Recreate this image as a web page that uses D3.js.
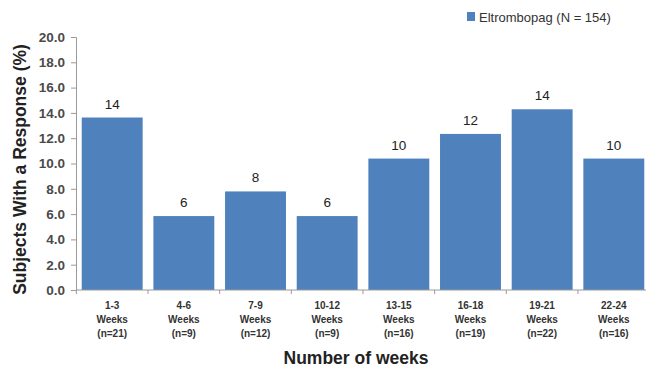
<!DOCTYPE html>
<html>
<head>
<meta charset="utf-8">
<script src="https://cdn.jsdelivr.net/npm/d3@7"></script>
<style>
  html, body { margin: 0; padding: 0; background: #fff; }
  svg { display: block; font-family: Arial, "Liberation Sans", sans-serif; }
</style>
</head>
<body>
<svg id="chart" width="646" height="368"></svg>
<script>
// Week windows and subjects responding in each (out of N = 154)
const periods = ["1-3", "4-6", "7-9", "10-12", "13-15", "16-18", "19-21", "22-24"];
const responders = [21, 9, 12, 9, 16, 19, 22, 16];
const totalN = 154;
const percents = responders.map(n => n / totalN * 100);
const yTicks = [0, 2, 4, 6, 8, 10, 12, 14, 16, 18, 20];
const seriesName = "Eltrombopag (N = 154)";

const data = periods.map((p, i) => ({ period: p, n: responders[i], pct: percents[i] }));

const svg = d3.select("#chart");
const plotLeft = 76, plotRight = 650, plotTop = 37, plotBottom = 290;
const barColor = "#4F81BD";
const axisColor = "#9a9a9a";

const x = d3.scaleBand()
  .domain(periods)
  .range([plotLeft, plotRight])
  .paddingInner(0.15)
  .paddingOuter(0.08);

const y = d3.scaleLinear().domain([0, 20]).range([plotBottom, plotTop]);

// Bars
svg.append("g").selectAll("rect")
  .data(data)
  .join("rect")
  .attr("x", d => x(d.period))
  .attr("y", d => y(d.pct))
  .attr("width", x.bandwidth())
  .attr("height", d => y(0) - y(d.pct))
  .attr("fill", barColor);

// Rounded value labels above each bar
svg.append("g").selectAll("text")
  .data(data)
  .join("text")
  .attr("x", d => x(d.period) + x.bandwidth() / 2)
  .attr("y", d => y(d.pct) - 9)
  .attr("text-anchor", "middle")
  .attr("font-size", 13.5)
  .attr("fill", "#222")
  .text(d => Math.round(d.pct));

// Y axis
const yAxis = svg.append("g")
  .attr("transform", `translate(${plotLeft},0)`)
  .call(d3.axisLeft(y).tickValues(yTicks).tickFormat(d3.format(".1f")).tickSize(5).tickPadding(6));
yAxis.select(".domain").attr("stroke", axisColor);
yAxis.selectAll(".tick line").attr("stroke", axisColor);
yAxis.selectAll("text")
  .attr("font-size", 13.5)
  .attr("font-weight", "bold")
  .attr("fill", "#4a4a4a")
  .attr("font-family", "Arial, 'Liberation Sans', sans-serif");

// X axis baseline with boundary ticks between categories
svg.append("line")
  .attr("x1", plotLeft).attr("x2", plotRight)
  .attr("y1", plotBottom).attr("y2", plotBottom)
  .attr("stroke", axisColor);
const step = x.step();
const boundaries = d3.range(periods.length).map(i => x(periods[i]) - x.paddingInner() * step / 2);
svg.append("g").selectAll("line")
  .data(boundaries)
  .join("line")
  .attr("x1", d => d).attr("x2", d => d)
  .attr("y1", plotBottom).attr("y2", plotBottom + 4)
  .attr("stroke", axisColor);

// Category labels (three lines each)
const cat = svg.append("g").selectAll("text")
  .data(data)
  .join("text")
  .attr("text-anchor", "middle")
  .attr("font-size", 10)
  .attr("font-weight", "bold")
  .attr("fill", "#333");
cat.each(function(d) {
  const t = d3.select(this);
  const cx = x(d.period) + x.bandwidth() / 2;
  [d.period, "Weeks", `(n=${d.n})`].forEach((line, k) => {
    t.append("tspan").attr("x", cx).attr("y", plotBottom + 19 + k * 14).text(line);
  });
});

// Axis titles
svg.append("text")
  .attr("transform", `translate(26,${(plotTop + plotBottom) / 2 + 6}) rotate(-90)`)
  .attr("text-anchor", "middle")
  .attr("font-size", 17.5)
  .attr("font-weight", "bold")
  .attr("fill", "#222")
  .text("Subjects With a Response (%)");

svg.append("text")
  .attr("x", 356)
  .attr("y", 364)
  .attr("text-anchor", "middle")
  .attr("font-size", 17.5)
  .attr("font-weight", "bold")
  .attr("fill", "#222")
  .text("Number of weeks");

// Legend
const legend = svg.append("g").attr("transform", "translate(467,12)");
legend.append("rect").attr("width", 8).attr("height", 9).attr("fill", barColor);
legend.append("text")
  .attr("x", 12).attr("y", 9.5)
  .attr("font-size", 13)
  .attr("fill", "#333")
  .text(seriesName);
</script>
</body>
</html>
